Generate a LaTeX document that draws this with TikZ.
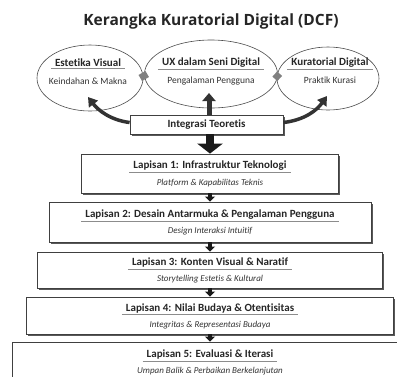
\documentclass[tikz,border=0pt]{standalone}
\usepackage{fontspec}
\setmainfont{Carlito}[Ligatures=NoCommon]
\newfontfamily\headfont{Open Sans}
\usetikzlibrary{arrows.meta,shadows,shapes.geometric}

\begin{document}
\begin{tikzpicture}[x=1pt,y=-1pt,
  oval/.style={ellipse,draw=black!70,line width=0.6pt,fill=white,inner sep=0pt},
  box/.style={rectangle,draw=black!75,line width=0.8pt,fill=white,
    drop shadow={shadow xshift=1.5pt,shadow yshift=-1.5pt,fill=black!65,opacity=1}},
  head/.style={font=\bfseries\fontsize{11}{13}\selectfont,text=black!85,inner xsep=4pt,inner ysep=1.5pt},
  sub/.style={font=\fontsize{9.5}{11}\selectfont,text=black!80},
  rule/.style={draw=black!45,line width=0.6pt},
  link/.style={draw=black!50,line width=7pt},
  bend arrow/.style={draw=black!80,line width=3.5pt,-{Triangle[width=11pt,length=9pt]}},
  up arrow/.style={draw=black!80,line width=5pt,-{Triangle[width=13pt,length=8pt]}},
  big arrow/.style={draw=black!90,line width=8pt,-{Triangle[width=25pt,length=10pt]}},
  small arrow/.style={draw=black!90,line width=4pt,-{Triangle[width=10pt,length=5pt]}}]

\useasboundingbox (0,0) rectangle (397,376);

% title
\node[font=\headfont\bfseries\fontsize{15.5}{18}\selectfont,text=black!85] (title) at (211,21) {Kerangka Kuratorial Digital (DCF)};

% three pillars
\node[oval,minimum width=106pt,minimum height=66pt] (estetika) at (90,78) {};
\node[oval,minimum width=133pt,minimum height=68pt] (ux) at (211,74) {};
\node[oval,minimum width=102pt,minimum height=63pt] (kurasi) at (328,78.5) {};
\draw[link] ([xshift=-3pt]estetika.east) -- ([xshift=3pt]ux.west);
\draw[link] ([xshift=-3pt]ux.east) -- ([xshift=3pt]kurasi.west);

\node[head] (estetikaT) at (88,63) {Estetika Visual};
\draw[rule] (estetikaT.south west) -- (estetikaT.south east);
\node[sub] (estetikaS) at (88,81.5) {Keindahan \& Makna};
\node[head] (uxT) at (211,63) {UX dalam Seni Digital};
\draw[rule] (uxT.south west) -- (uxT.south east);
\node[sub] (uxS) at (211,81) {Pengalaman Pengguna};
\node[head] (kurasiT) at (330,63) {Kuratorial Digital};
\draw[rule] (kurasiT.south west) -- (kurasiT.south east);
\node[sub] (kurasiS) at (330,80) {Praktik Kurasi};

% integration
\node[box,head,minimum width=153pt,minimum height=19pt] (integrasi) at (206.5,124.5) {Integrasi Teoretis};
\coordinate (estetikaTip) at (88,97);
\coordinate (uxTip) at (209,93);
\coordinate (kurasiTip) at (327,96);
\draw[bend arrow] ([yshift=2pt]integrasi.west) .. controls (110,120) and (98,110) .. (estetikaTip);
\draw[bend arrow] ([yshift=2pt]integrasi.east) .. controls (305,120) and (317,110) .. (kurasiTip);
\draw[up arrow] (uxTip |- integrasi.north) -- (uxTip);

% layers
\foreach \i/\w/\h/\yc/\ttl/\sb in {
  1/257/39/173.5/{Lapisan 1: Infrastruktur Teknologi}/{Platform \& Kapabilitas Teknis},
  2/322/40/222/{Lapisan 2: Desain Antarmuka \& Pengalaman Pengguna}/{Design Interaksi Intuitif},
  3/345/36/270/{Lapisan 3: Konten Visual \& Naratif}/{Storytelling Estetis \& Kultural},
  4/367/37/315.5/{Lapisan 4: Nilai Budaya \& Otentisitas}/{Integritas \& Representasi Budaya},
  5/396/40/362/{Lapisan 5: Evaluasi \& Iterasi}/{Umpan Balik \& Perbaikan Berkelanjutan}}
{
  \node[box,minimum width=\w pt,minimum height=\h pt] (layer\i) at (210,\yc) {};
  \node[head] (layer\i T) at ([yshift=7.5pt]layer\i.center) {\ttl};
  \draw[rule] (layer\i T.south west) -- (layer\i T.south east);
  \node[sub,font=\itshape\fontsize{9}{10}\selectfont] (layer\i S) at ([yshift=-9.5pt]layer\i.center) {\sb};
}

\draw[big arrow] (integrasi.south -| layer1.north) -- (layer1.north);
\foreach \i/\j in {1/2,2/3,3/4,4/5}
  \draw[small arrow] (layer\i.south) -- (layer\j.north);

\end{tikzpicture}
\end{document}
